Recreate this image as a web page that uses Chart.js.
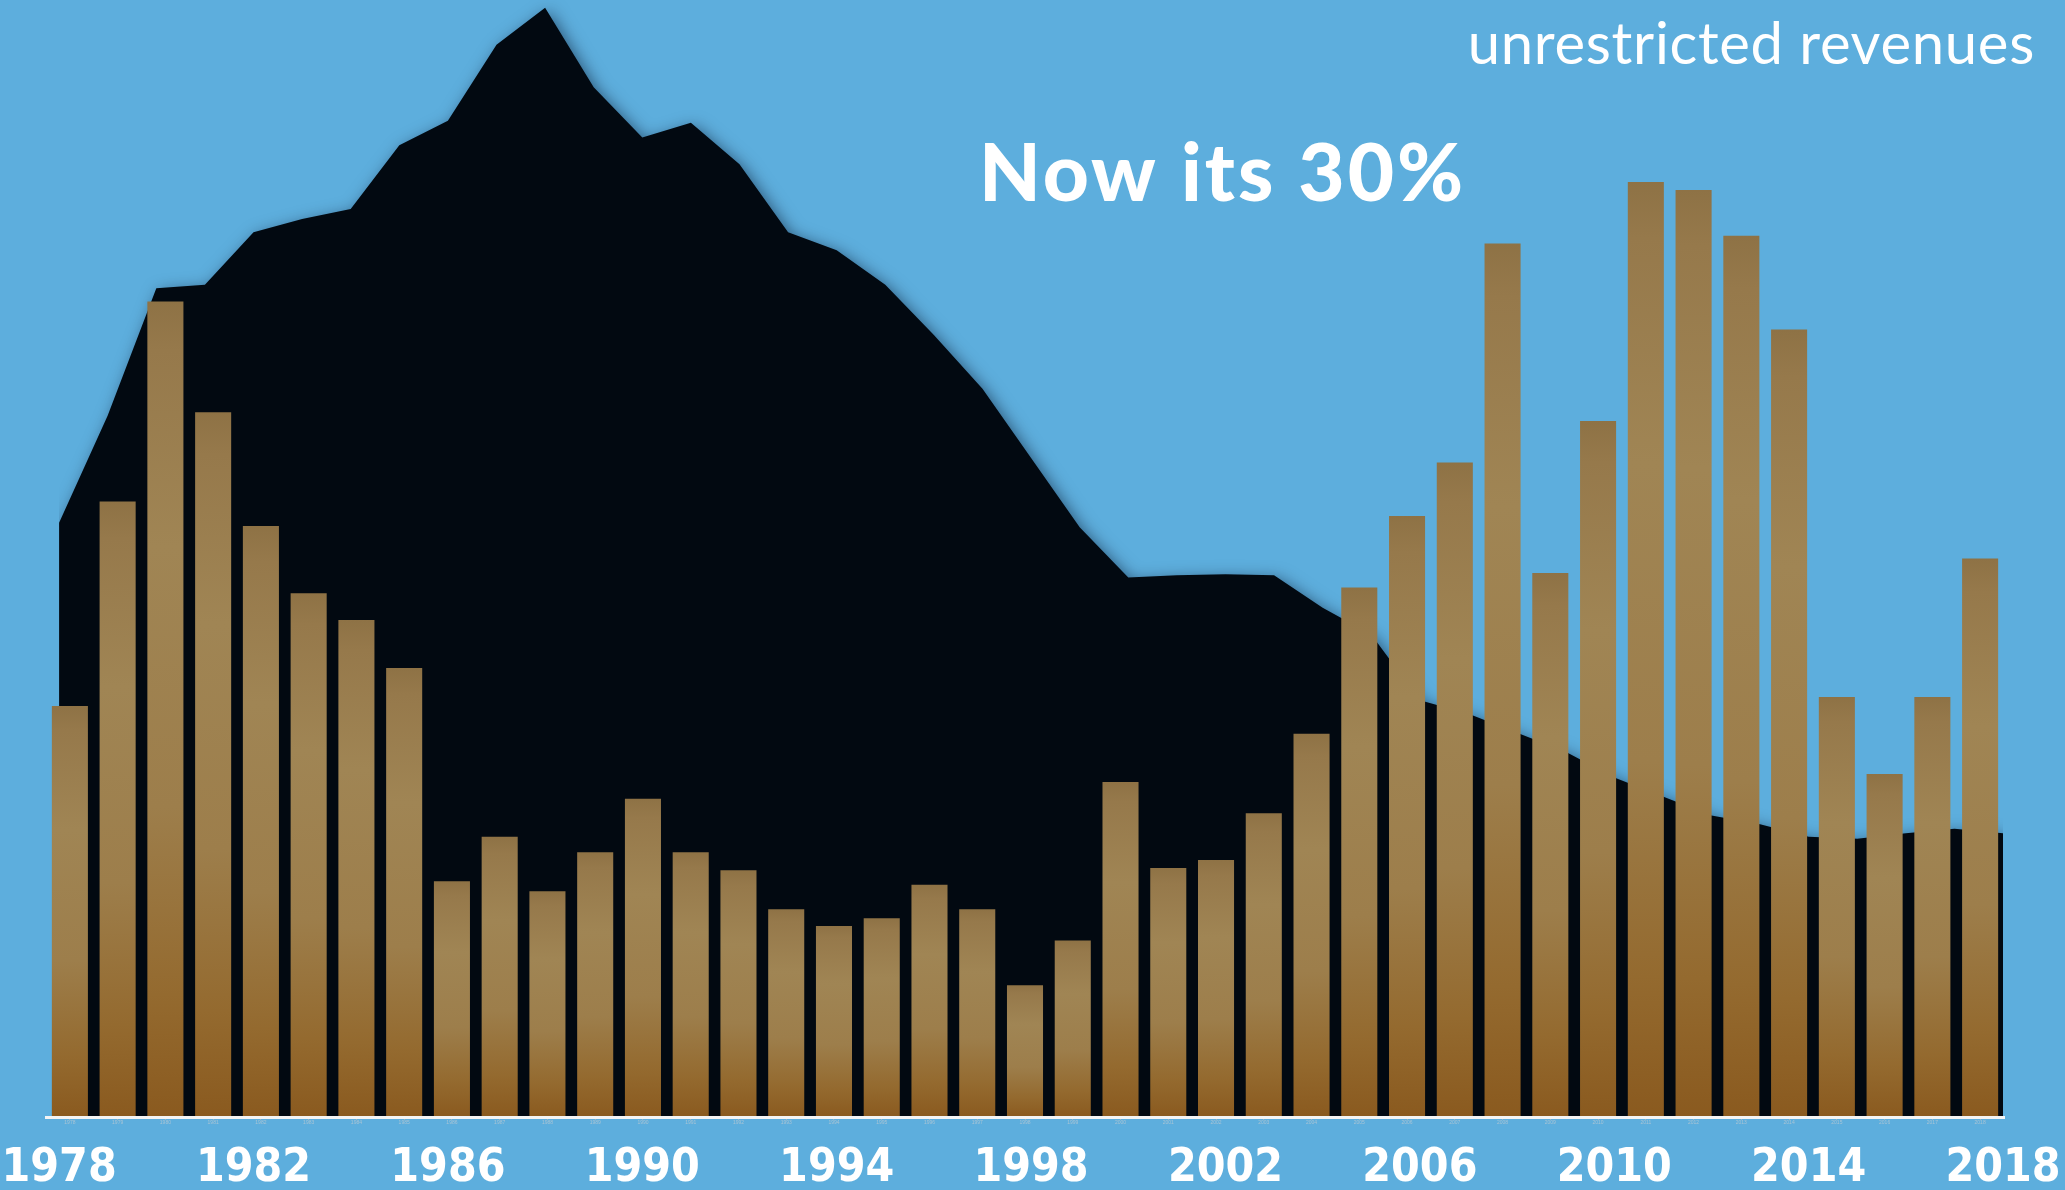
<!DOCTYPE html>
<html>
<head>
<meta charset="utf-8">
<script src="https://cdn.jsdelivr.net/npm/chart.js@4.4.1/dist/chart.umd.min.js"></script>
<style>
  html, body { margin: 0; padding: 0; background: #5daedd; }
  #wrap { width: 2065px; height: 1190px; position: relative; }
</style>
</head>
<body>
<div id="wrap"><canvas id="grafico"></canvas></div>
<script>
// years on the category axis (one bar per year)
var anos = ["1978", "1979", "1980", "1981", "1982", "1983", "1984", "1985", "1986", "1987",
    "1988", "1989", "1990", "1991", "1992", "1993", "1994", "1995", "1996", "1997",
    "1998", "1999", "2000", "2001", "2002", "2003", "2004", "2005", "2006", "2007",
    "2008", "2009", "2010", "2011", "2012", "2013", "2014", "2015", "2016", "2017", "2018"];

// bar heights (share of chart height, 0-100)
var barras = [36.8, 55.1, 73.0, 63.1, 52.9, 46.9, 44.5, 40.2, 21.1, 25.1,
    20.2, 23.7, 28.5, 23.7, 22.1, 18.6, 17.1, 17.8, 20.8, 18.6,
    11.8, 15.8, 30.0, 22.3, 23.0, 27.2, 34.3, 47.4, 53.8, 58.6,
    78.2, 48.7, 62.3, 83.7, 83.0, 78.9, 70.5, 37.6, 30.7, 37.6, 50.0];

// black area (same units)
var area = [53.2, 62.8, 74.2, 74.5, 79.2, 80.4, 81.3, 87.0, 89.2, 96.0,
    99.3, 92.2, 87.7, 89.0, 85.3, 79.2, 77.6, 74.5, 70.0, 65.2,
    59.0, 52.8, 48.3, 48.5, 48.6, 48.5, 45.6, 43.2, 37.3, 36.1,
    34.4, 32.7, 30.4, 28.7, 27.0, 26.2, 25.1, 24.9, 25.4, 25.8, 25.4];

// big year labels under the axis
var anosEixo = [1978, 1982, 1986, 1990, 1994, 1998, 2002, 2006, 2010, 2014, 2018];

var pontosArea = anos.map(function (a, i) {
    return { x: Number(a), y: area[i] };
});

function corBarra(ctx) {
    var chart = ctx.chart;
    if (!chart.chartArea || ctx.raw === undefined) return "#9a7d4e";
    var y = chart.scales.y;
    var topo = y.getPixelForValue(ctx.raw);
    var base = y.getPixelForValue(0);
    var g = chart.ctx.createLinearGradient(0, topo, 0, base);
    g.addColorStop(0, "#8e7245");
    g.addColorStop(0.06, "#96794b");
    g.addColorStop(0.3, "#a08554");
    g.addColorStop(0.62, "#9d7e4b");
    g.addColorStop(0.85, "#946a2f");
    g.addColorStop(1, "#8a5a1f");
    return g;
}

function semPadding(s, altura) {
    s.height = altura;
    s.paddingLeft = 0;
    s.paddingRight = 0;
}

// shadow under the black area + the texts
var extras = {
    id: "extras",
    beforeDatasetsDraw: function (chart) {
        var c = chart.ctx;
        c.save();
        c.shadowColor = "rgba(0, 10, 30, 0.55)";
        c.shadowBlur = 16;
        c.shadowOffsetX = 4;
        c.shadowOffsetY = 4;
    },
    afterDatasetDraw: function (chart, args) {
        if (args.index === 0) chart.ctx.restore();
    },
    afterDraw: function (chart) {
        var c = chart.ctx;
        c.save();
        c.fillStyle = "#ffffff";
        c.textBaseline = "alphabetic";
        c.font = "900 80px Lato, 'Open Sans', sans-serif";
        c.letterSpacing = "3px";
        c.textAlign = "left";
        c.fillText("Now its 30%", 979, 201);
        c.font = "400 58px Lato, 'Open Sans', sans-serif";
        c.letterSpacing = "0.7px";
        c.textAlign = "right";
        c.fillText("unrestricted revenues", 2035, 64);
        c.restore();
    }
};

var grafico = new Chart(document.querySelector("#grafico").getContext("2d"), {
    data: {
        labels: anos,
        datasets: [{
                type: "line",
                label: "area",
                data: pontosArea,
                xAxisID: "xa",
                yAxisID: "y",
                backgroundColor: "#020911",
                borderColor: "#020911",
                borderWidth: 0,
                pointRadius: 0,
                tension: 0,
                fill: "origin",
                order: 2
            },
            {
                type: "bar",
                label: "barras",
                data: barras,
                xAxisID: "x",
                yAxisID: "y",
                backgroundColor: corBarra,
                borderWidth: 0,
                grouped: false,
                barPercentage: 0.755,
                categoryPercentage: 1,
                order: 1
            }
        ]
    },
    options: {
        responsive: true,
        maintainAspectRatio: false,
        animation: false,
        layout: { padding: { left: 46, right: 61, top: 0, bottom: 0 } },
        plugins: {
            legend: { display: false },
            tooltip: { enabled: false },
            title: { display: false }
        },
        scales: {
            y: {
                display: false,
                min: 0,
                max: 100
            },
            x: {
                type: "category",
                position: "bottom",
                weight: 0,
                offset: true,
                grid: { display: true, drawOnChartArea: false, drawTicks: true, tickLength: 3, offset: false, color: "rgba(170,180,190,0.8)" },
                border: { display: true, color: "#f4f4f4", width: 3, z: 1 },
                ticks: { autoSkip: false, maxRotation: 0, padding: 0, color: "rgba(200,205,210,0.7)", font: { size: 5 } },
                afterFit: function (s) { semPadding(s, 10); }
            },
            xa: {
                type: "linear",
                position: "bottom",
                weight: 1,
                min: 1977.73,
                max: 2018.02,
                grid: { display: false, drawTicks: false },
                border: { display: false },
                afterBuildTicks: function (s) {
                    s.ticks = anosEixo.map(function (v) { return { value: v }; });
                },
                ticks: {
                    padding: 14,
                    color: "#ffffff",
                    maxRotation: 0,
                    autoSkip: false,
                    font: { family: "'Liberation Sans Narrow', 'DejaVu Sans Condensed', sans-serif", size: 46, weight: "bold" },
                    callback: function (v) { return String(v); }
                },
                afterFit: function (s) { semPadding(s, 63); }
            }
        }
    },
    plugins: [extras]
});
</script>
</body>
</html>
